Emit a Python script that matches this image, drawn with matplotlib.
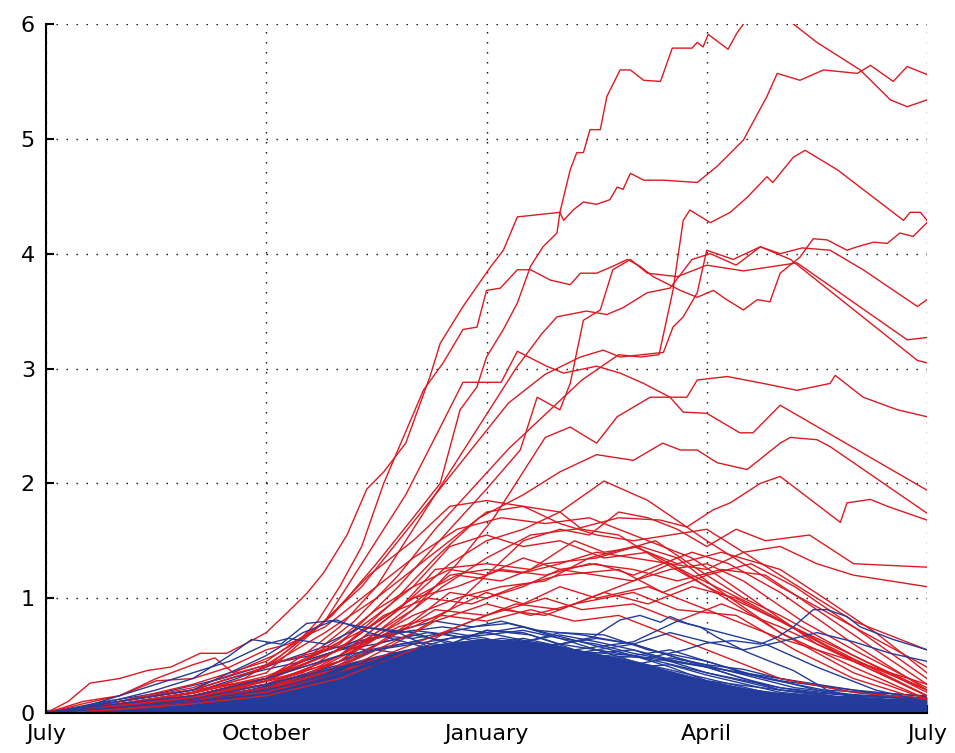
import numpy as np
import matplotlib.pyplot as plt

# x axis in months after July (0 = July, 12 = next July)
tick_pos = [0, 3, 6, 9, 12]
tick_labels = ['July', 'October', 'January', 'April', 'July']

# dense blue core: upper edge of the solid blue band
core_t = [0, 0.5, 1, 1.5, 2, 2.5, 3, 3.5, 4, 4.5, 5, 5.5, 6, 6.5, 7, 7.5, 8,
          8.5, 9, 9.5, 10, 10.5, 11, 11.5, 12]
core_v = [0.03, 0.05, 0.07, 0.09, 0.12, 0.17, 0.25, 0.33, 0.42, 0.5, 0.57, 0.62,
          0.65, 0.63, 0.58, 0.52, 0.45, 0.37, 0.29, 0.22, 0.18, 0.16, 0.15, 0.13, 0.14]

# red paths, (month, value)
red_a = [(0, 0), (0.3, 0.1), (0.6, 0.26), (1.0, 0.3), (1.38, 0.37), (1.7, 0.4), (2.1, 0.52),
         (2.46, 0.52), (2.74, 0.61), (3.0, 0.7), (3.28, 0.87), (3.55, 1.04), (3.78, 1.22),
         (4.1, 1.55), (4.37, 1.95), (4.6, 2.1), (4.9, 2.35), (5.23, 2.93), (5.37, 3.22),
         (5.68, 3.54), (6.05, 3.88), (6.23, 4.03), (6.42, 4.32), (7.0, 4.36), (7.05, 4.29),
         (7.18, 4.38), (7.32, 4.45), (7.5, 4.43), (7.68, 4.47), (7.78, 4.58), (7.86, 4.56),
         (7.96, 4.70), (8.14, 4.64), (8.41, 4.64), (8.87, 4.62), (9.14, 4.76), (9.5, 4.99),
         (9.82, 5.37), (9.96, 5.57), (10.27, 5.51), (10.59, 5.60), (11.05, 5.57), (11.23, 5.64),
         (11.54, 5.50), (11.73, 5.63), (12, 5.56)]
red_b = [(0, 0), (0.5, 0.08), (1, 0.15), (1.5, 0.3), (2, 0.42), (2.3, 0.48), (2.55, 0.35),
         (2.8, 0.42), (3.1, 0.5), (3.5, 0.65), (3.9, 0.85), (4.5, 1.3), (5.0, 1.7), (5.37, 2.0),
         (5.64, 2.64), (5.87, 2.84), (6.0, 3.1), (6.23, 3.34), (6.42, 3.57), (6.6, 3.89),
         (6.77, 4.06), (6.96, 4.18), (7.0, 4.36), (7.14, 4.73), (7.23, 4.88), (7.32, 4.88),
         (7.41, 5.08), (7.55, 5.08), (7.64, 5.37), (7.82, 5.60), (7.96, 5.60), (8.14, 5.51),
         (8.37, 5.50), (8.53, 5.79), (8.80, 5.79), (8.87, 5.84), (8.95, 5.80), (9.02, 5.91),
         (9.29, 5.78), (9.41, 5.92), (9.5, 6.0), (9.7, 6.15), (9.95, 6.1), (10.18, 6.0),
         (10.5, 5.84), (11.09, 5.60), (11.5, 5.34), (11.73, 5.28), (11.87, 5.31), (12, 5.34)]
red_d = [(0, 0), (1, 0.05), (2, 0.12), (3, 0.3), (3.6, 0.5), (4.2, 0.8), (4.8, 1.2), (5.3, 1.6),
         (5.8, 1.95), (6.3, 2.3), (6.8, 2.6), (7.3, 2.9), (7.8, 3.12), (8.1, 3.1), (8.35, 3.12),
         (8.54, 3.68), (8.68, 4.29), (8.77, 4.38), (9.05, 4.27), (9.32, 4.36), (9.55, 4.49),
         (9.82, 4.67), (9.9, 4.62), (10.18, 4.84), (10.34, 4.9), (10.78, 4.73), (11.68, 4.29),
         (11.77, 4.36), (11.91, 4.36), (12, 4.29)]
red_e = [(0, 0), (0.5, 0.05), (1, 0.1), (2, 0.2), (2.5, 0.3), (3, 0.4), (3.4, 0.6), (3.7, 0.8),
         (4.0, 1.1), (4.3, 1.45), (4.6, 2.0), (5.14, 2.81), (5.41, 3.05), (5.68, 3.34),
         (5.87, 3.36), (6.0, 3.68), (6.19, 3.7), (6.42, 3.86), (6.6, 3.86), (6.87, 3.77),
         (7.14, 3.73), (7.28, 3.83), (7.5, 3.83), (7.72, 3.89), (7.92, 3.95), (8.09, 3.89),
         (8.27, 3.80), (8.64, 3.68), (8.87, 3.62), (9.09, 3.68), (9.27, 3.6), (9.5, 3.51),
         (9.69, 3.6), (9.86, 3.58), (10.0, 3.83), (10.27, 3.97), (10.45, 4.13), (10.64, 4.12),
         (10.91, 4.03), (11.05, 4.06), (11.27, 4.10), (11.46, 4.09), (11.63, 4.18),
         (11.81, 4.15), (12, 4.27)]
red_f = [(0, 0), (1, 0.08), (2, 0.18), (2.7, 0.3), (3.2, 0.5), (3.7, 0.75), (4.3, 1.1), (4.8, 1.5),
         (5.3, 1.9), (5.8, 2.3), (6.3, 2.7), (6.8, 2.95), (7.28, 3.1), (7.59, 3.16), (7.82, 3.1),
         (8.41, 3.14), (8.54, 3.36), (8.68, 3.45), (8.87, 3.66), (9.0, 4.03), (9.36, 3.95),
         (9.73, 4.06), (10.0, 4.0), (10.3, 4.05), (10.68, 4.03), (11.13, 3.86), (11.87, 3.54),
         (12, 3.6)]
red_g = [(0, 0), (1, 0.05), (2, 0.15), (3, 0.3), (3.5, 0.5), (4.0, 0.75), (4.5, 1.1), (5.0, 1.6),
         (5.5, 2.1), (6.0, 2.6), (6.4, 3.0), (6.75, 3.3), (6.96, 3.45), (7.36, 3.5), (7.64, 3.47),
         (7.86, 3.53), (8.19, 3.66), (8.5, 3.7), (8.8, 3.95), (9.05, 4.0), (9.4, 3.9),
         (9.73, 4.06), (10.14, 3.95), (11.87, 3.07), (12, 3.05)]
red_h = [(0, 0), (1, 0.05), (2, 0.15), (3, 0.3), (4, 0.6), (4.8, 1.1), (5.5, 1.6), (6.0, 1.95),
         (6.46, 2.29), (6.69, 2.75), (7.0, 2.64), (7.14, 2.87), (7.32, 3.42), (7.55, 3.51),
         (7.72, 3.86), (7.96, 3.95), (8.19, 3.83), (8.6, 3.8), (9.0, 3.9), (9.5, 3.85),
         (10.23, 3.92), (11.73, 3.25), (12, 3.27)]
red_i = [(0, 0), (1, 0.05), (2, 0.12), (3, 0.25), (4, 0.5), (5, 0.9), (5.6, 1.3), (6.1, 1.7),
         (6.5, 2.1), (6.8, 2.4), (7.14, 2.49), (7.5, 2.35), (7.78, 2.58), (8.23, 2.75),
         (8.73, 2.75), (8.87, 2.9), (9.28, 2.93), (9.77, 2.87), (10.23, 2.81), (10.68, 2.87),
         (10.75, 2.94), (11.13, 2.75), (11.6, 2.64), (12, 2.58)]
red_j = [(0, 0), (1, 0.05), (2, 0.18), (3, 0.35), (3.8, 0.8), (4.4, 1.4), (4.9, 1.9), (5.3, 2.4),
         (5.68, 2.88), (6.2, 2.88), (6.42, 3.15), (6.82, 3.02), (7.05, 2.96), (7.5, 3.02),
         (7.82, 2.96), (8.14, 2.87), (8.5, 2.75), (8.68, 2.62), (9.0, 2.61), (9.45, 2.44),
         (9.63, 2.44), (10.0, 2.68), (12, 1.94)]
red_t = [(0, 0), (1, 0.08), (2, 0.15), (3, 0.28), (4, 0.55), (4.7, 0.95), (5.3, 1.35), (5.9, 1.7),
         (6.5, 1.9), (7.0, 2.1), (7.5, 2.25), (8.0, 2.2), (8.4, 2.35), (8.64, 2.29), (8.87, 2.29),
         (9.14, 2.18), (9.55, 2.12), (10.0, 2.35), (10.14, 2.4), (10.5, 2.38), (10.68, 2.32),
         (12, 1.74)]
red_l = [(0, 0), (1, 0.05), (2, 0.1), (3, 0.2), (4, 0.45), (4.8, 0.8), (5.4, 1.1), (6.0, 1.35),
         (6.6, 1.55), (7.2, 1.6), (7.8, 1.7), (8.37, 1.68), (8.73, 1.62), (9.09, 1.77),
         (9.32, 1.83), (9.73, 2.0), (10.0, 2.06), (10.82, 1.66), (10.91, 1.83), (11.23, 1.86),
         (11.46, 1.80), (12, 1.68)]
red_01 = [(0, 0), (1, 0.1), (2, 0.2), (3, 0.3), (3.5, 0.45), (4, 0.65), (4.5, 0.9), (5, 1.1),
          (5.5, 1.25), (6, 1.2), (6.5, 1.5), (7, 1.6), (7.4, 1.55), (7.8, 1.75), (8.2, 1.7),
          (8.6, 1.6), (9.0, 1.45), (9.4, 1.6), (9.8, 1.5), (10.4, 1.55), (11, 1.3), (12, 1.27)]
red_02 = [(0, 0), (1, 0.05), (2, 0.1), (3, 0.2), (4, 0.45), (4.5, 0.7), (5, 0.95), (5.5, 1.2),
          (6, 1.25), (6.5, 1.22), (7, 1.3), (7.5, 1.4), (8, 1.35), (8.5, 1.3), (9, 1.25),
          (9.5, 1.4), (10, 1.45), (10.5, 1.3), (11, 1.2), (11.5, 1.15), (12, 1.1)]
red_03 = [(0, 0), (1.5, 0.08), (2.5, 0.2), (3.5, 0.35), (4.3, 0.7), (5, 1.0), (5.6, 1.2),
          (6.2, 1.15), (6.8, 1.3), (7.5, 1.35), (8.3, 1.5), (9, 1.2), (9.5, 1.0), (10, 0.85),
          (11, 0.5), (12, 0.18)]
red_04 = [(0, 0), (1, 0.05), (2, 0.15), (3, 0.25), (4, 0.5), (4.8, 0.9), (5.3, 1.25), (6, 1.3),
          (6.6, 1.25), (7.2, 1.5), (7.6, 1.4), (8.1, 1.45), (8.6, 1.35), (9.1, 1.1), (10, 0.7),
          (11, 0.4), (12, 0.12)]
red_05 = [(0, 0), (1, 0.1), (2, 0.2), (3, 0.4), (3.8, 0.7), (4.5, 1.0), (5, 1.25), (5.5, 1.5),
          (6, 1.75), (6.5, 1.8), (7, 1.65), (7.5, 1.55), (8, 1.5), (8.5, 1.55), (9, 1.6),
          (9.5, 1.4), (10, 1.2), (11, 0.8), (12, 0.55)]
red_06 = [(0, 0), (1, 0.05), (2, 0.1), (3, 0.2), (3.8, 0.35), (4.5, 0.6), (5, 0.8), (5.5, 1.05),
          (6, 1.0), (6.5, 1.1), (7, 1.25), (7.5, 1.2), (8, 1.15), (8.5, 1.3), (9, 1.1), (10, 0.8),
          (11, 0.5), (12, 0.2)]
red_07 = [(0, 0), (1, 0.08), (2, 0.18), (3, 0.3), (4, 0.55), (4.6, 0.85), (5.2, 1.0), (5.8, 0.95),
          (6.4, 1.1), (7, 1.2), (7.8, 1.25), (8.4, 1.05), (9, 1.2), (9.6, 1.3), (10.2, 1.1),
          (11, 0.75), (12, 0.3)]
red_08 = [(0, 0), (1, 0.05), (2, 0.12), (3, 0.25), (4, 0.4), (4.8, 0.7), (5.3, 0.9), (6, 0.85),
          (6.8, 1.0), (7.3, 0.9), (8, 0.95), (8.6, 0.8), (9.2, 0.95), (10, 0.75), (11, 0.45),
          (12, 0.15)]
red_09 = [(0, 0), (1, 0.1), (2, 0.25), (3, 0.45), (3.8, 0.8), (4.4, 1.2), (5, 1.5), (5.5, 1.8),
          (6, 1.85), (6.5, 1.8), (7, 1.75), (7.3, 1.6), (7.8, 1.55), (8.3, 1.35), (9, 1.1),
          (10, 0.7), (11, 0.35), (12, 0.12)]
red_10 = [(0, 0), (1, 0.05), (2, 0.1), (3, 0.2), (4, 0.4), (5, 0.7), (5.5, 0.9), (6, 1.2),
          (6.5, 1.35), (7, 1.25), (7.5, 1.3), (8, 1.2), (8.8, 1.4), (9.3, 1.3), (10, 1.05),
          (11, 0.6), (12, 0.2)]
red_11 = [(0, 0), (1, 0.05), (2, 0.15), (3, 0.3), (4, 0.5), (4.8, 0.9), (5.5, 1.3), (6, 1.5),
          (6.5, 1.6), (7, 1.75), (7.6, 2.02), (8.2, 1.85), (9, 1.5), (10, 1.1), (11, 0.75),
          (12, 0.4)]
red_12 = [(0, 0), (0.5, 0.1), (1, 0.15), (1.5, 0.28), (2, 0.3), (2.5, 0.4), (3, 0.55), (3.3, 0.6),
          (3.8, 0.75), (4.4, 1.05), (5, 1.35), (5.6, 1.6), (6.2, 1.7), (6.8, 1.65), (7.4, 1.7),
          (8, 1.55), (8.8, 1.35), (9.6, 1.0), (10.5, 0.6), (12, 0.2)]
red_13 = [(0, 0), (1, 0.05), (2, 0.12), (3, 0.18), (4, 0.35), (4.6, 0.55), (5.3, 0.8), (6, 0.95),
          (6.6, 0.85), (7.2, 0.95), (8, 1.05), (8.6, 0.9), (9.4, 0.85), (10.2, 0.55), (11, 0.3),
          (12, 0.1)]
red_14 = [(0, 0), (1, 0.08), (2, 0.15), (3, 0.28), (4, 0.45), (4.5, 0.65), (5, 0.75), (5.5, 0.9),
          (6, 1.05), (6.5, 0.95), (7, 1.1), (7.5, 1.0), (8.2, 1.1), (9, 0.9), (10, 0.65),
          (11, 0.45), (12, 0.25)]
red_15 = [(0, 0), (1, 0.03), (2, 0.08), (3, 0.15), (4, 0.3), (5, 0.55), (5.6, 0.75), (6.2, 0.9),
          (6.8, 0.85), (7.4, 1.0), (8, 1.15), (8.5, 1.25), (9, 1.3), (9.5, 1.15), (10.3, 0.8),
          (11, 0.55), (12, 0.22)]
red_16 = [(0, 0), (1, 0.1), (2, 0.22), (2.6, 0.35), (3.2, 0.45), (3.8, 0.55), (4.4, 0.75),
          (5, 1.0), (5.6, 1.1), (6.2, 1.25), (6.8, 1.2), (7.4, 1.3), (8, 1.25), (8.6, 1.15),
          (9.2, 1.25), (9.8, 1.2), (10.5, 0.9), (11.3, 0.55), (12, 0.25)]
red_17 = [(0, 0), (1, 0.04), (2, 0.1), (3, 0.2), (4, 0.35), (4.6, 0.5), (5.2, 0.65), (5.8, 0.8),
          (6.4, 0.95), (7, 0.9), (7.6, 1.05), (8.2, 0.95), (8.8, 1.1), (9.4, 1.0), (10, 0.8),
          (11, 0.45), (12, 0.15)]
red_18 = [(0, 0), (1, 0.06), (2, 0.14), (3, 0.25), (3.7, 0.4), (4.3, 0.6), (5, 0.85), (5.6, 1.0),
          (6.2, 1.1), (6.8, 1.15), (7.4, 1.35), (8, 1.45), (8.6, 1.3), (9.2, 1.4), (10, 1.25),
          (10.6, 1.0), (11.3, 0.7), (12, 0.35)]
red_19 = [(0, 0), (1, 0.05), (2, 0.12), (3, 0.22), (3.6, 0.35), (4.2, 0.55), (4.8, 0.75),
          (5.4, 0.85), (6, 0.8), (6.6, 0.9), (7.2, 0.8), (7.8, 0.85), (8.4, 0.7), (9, 0.55),
          (10, 0.3), (11, 0.18), (12, 0.12)]
red_20 = [(0, 0), (1, 0.07), (2, 0.17), (3, 0.32), (3.5, 0.45), (4, 0.62), (4.5, 0.85), (5, 1.1),
          (5.5, 1.45), (6, 1.55), (6.5, 1.45), (7, 1.5), (7.6, 1.35), (8.2, 1.4), (8.8, 1.2),
          (9.6, 0.95), (10.6, 0.6), (12, 0.15)]

red_paths = [red_a, red_b, red_d, red_e, red_f, red_g, red_h, red_i, red_j, red_t, red_l,
             red_01, red_02, red_03, red_04, red_05, red_06, red_07, red_08, red_09, red_10,
             red_11, red_12, red_13, red_14, red_15, red_16, red_17, red_18, red_19, red_20]

# blue paths inside the dense band
blue_01 = [(0, 0), (1, 0.05), (2, 0.1), (3, 0.2), (4, 0.35), (5, 0.5), (5.5, 0.6), (6, 0.72),
           (6.5, 0.7), (7, 0.6), (7.5, 0.55), (8, 0.45), (9, 0.3), (10, 0.15), (11, 0.1), (12, 0.08)]
blue_02 = [(0, 0), (1, 0.08), (2, 0.15), (3, 0.3), (3.5, 0.45), (4, 0.55), (4.5, 0.6), (5, 0.68),
           (5.5, 0.62), (6, 0.55), (7, 0.45), (8, 0.35), (9, 0.22), (10, 0.12), (11, 0.08), (12, 0.05)]
blue_03 = [(0, 0), (1, 0.04), (2, 0.08), (3, 0.15), (4, 0.25), (5, 0.4), (6, 0.55), (6.5, 0.62),
           (7, 0.68), (7.5, 0.62), (8, 0.55), (8.5, 0.45), (9, 0.35), (10, 0.2), (11, 0.12), (12, 0.1)]
blue_04 = [(0, 0), (1, 0.06), (2, 0.12), (3, 0.25), (4, 0.42), (4.5, 0.55), (5, 0.62), (5.5, 0.7),
           (6, 0.65), (6.5, 0.55), (7, 0.5), (8, 0.4), (8.5, 0.42), (9, 0.33), (10, 0.18), (11, 0.12),
           (12, 0.1)]
blue_05 = [(0, 0), (1, 0.03), (2, 0.07), (3, 0.12), (4, 0.2), (5, 0.3), (6, 0.45), (7, 0.5),
           (7.5, 0.55), (8, 0.5), (8.5, 0.55), (9, 0.45), (9.5, 0.35), (10, 0.3), (11, 0.18), (12, 0.12)]
blue_06 = [(0, 0), (1, 0.05), (2, 0.1), (3, 0.18), (3.5, 0.3), (4, 0.45), (4.5, 0.55), (5, 0.5),
           (6, 0.6), (6.5, 0.5), (7, 0.42), (8, 0.3), (9, 0.2), (10, 0.12), (11, 0.06), (12, 0.05)]
blue_07 = [(0, 0), (1, 0.07), (2, 0.13), (3, 0.22), (4, 0.3), (5, 0.45), (5.5, 0.55), (6, 0.6),
           (6.8, 0.58), (7.5, 0.45), (8, 0.5), (8.5, 0.4), (9, 0.28), (10, 0.2), (11, 0.15), (12, 0.12)]
blue_08 = [(0, 0), (1, 0.02), (2, 0.05), (3, 0.1), (4, 0.18), (5, 0.28), (6, 0.38), (7, 0.42),
           (8, 0.35), (9, 0.25), (10, 0.15), (11, 0.1), (12, 0.08)]
blue_09 = [(0, 0), (1, 0.1), (2, 0.2), (2.5, 0.3), (3, 0.38), (3.5, 0.45), (4, 0.55), (4.5, 0.65),
           (5, 0.72), (5.5, 0.68), (6, 0.6), (6.5, 0.65), (7, 0.58), (7.5, 0.48), (8, 0.38),
           (9, 0.25), (10, 0.15), (11, 0.12), (12, 0.1)]
blue_10 = [(0, 0), (1, 0.04), (2, 0.09), (3, 0.16), (4, 0.28), (5, 0.42), (6, 0.5), (6.5, 0.55),
           (7, 0.6), (7.5, 0.65), (8, 0.6), (8.5, 0.5), (9, 0.4), (9.5, 0.3), (10, 0.22), (11, 0.12),
           (12, 0.1)]
blue_11 = [(0, 0), (1, 0.06), (2, 0.11), (3, 0.22), (4, 0.38), (5, 0.55), (5.5, 0.65), (6, 0.68),
           (6.5, 0.72), (7, 0.65), (7.5, 0.6), (8, 0.52), (9, 0.4), (9.5, 0.3), (10, 0.2), (11, 0.12),
           (12, 0.08)]
blue_12 = [(0, 0), (1, 0.05), (2, 0.1), (3, 0.2), (4, 0.3), (4.5, 0.4), (5, 0.45), (6, 0.52),
           (7, 0.45), (8, 0.42), (8.5, 0.48), (9, 0.42), (9.5, 0.38), (10, 0.3), (10.5, 0.25),
           (11, 0.2), (11.5, 0.15), (12, 0.12)]
blue_13 = [(0, 0), (0.8, 0.1), (1.6, 0.18), (2.4, 0.3), (3, 0.42), (3.6, 0.5), (4.2, 0.62),
           (4.8, 0.7), (5.4, 0.75), (6, 0.7), (6.6, 0.62), (7.2, 0.55), (8, 0.45), (8.8, 0.3),
           (9.6, 0.2), (10.5, 0.12), (12, 0.08)]
blue_14 = [(0, 0), (1, 0.03), (2, 0.06), (3, 0.12), (4, 0.22), (5, 0.35), (6, 0.48), (7, 0.55),
           (8, 0.5), (9, 0.4), (9.5, 0.35), (10, 0.28), (10.5, 0.2), (11, 0.15), (12, 0.12)]
blue_15 = [(0, 0), (1, 0.05), (2, 0.12), (3, 0.28), (3.6, 0.45), (4.2, 0.6), (4.8, 0.72),
           (5.3, 0.8), (5.8, 0.75), (6.3, 0.78), (6.8, 0.7), (7.4, 0.6), (8, 0.5), (9, 0.35),
           (10, 0.22), (11, 0.15), (12, 0.12)]
blue_16 = [(0, 0), (1, 0.06), (2, 0.14), (3, 0.3), (3.8, 0.5), (4.4, 0.68), (5, 0.65), (5.6, 0.72),
           (6.2, 0.8), (6.7, 0.72), (7.3, 0.68), (8, 0.6), (8.6, 0.48), (9.4, 0.35), (10.2, 0.22),
           (11, 0.16), (12, 0.13)]
blue_17 = [(0, 0), (1, 0.04), (2, 0.1), (3, 0.22), (4, 0.45), (4.6, 0.62), (5.2, 0.7), (5.8, 0.65),
           (6.4, 0.6), (7, 0.7), (7.6, 0.68), (8.2, 0.55), (9, 0.45), (9.8, 0.3), (10.6, 0.2),
           (12, 0.15)]
blue_18 = [(0, 0), (1, 0.08), (2, 0.18), (2.6, 0.3), (3.2, 0.45), (3.8, 0.58), (4.4, 0.55),
           (5, 0.62), (5.6, 0.58), (6.2, 0.65), (6.8, 0.6), (7.4, 0.52), (8, 0.55), (8.6, 0.45),
           (9.2, 0.38), (10, 0.28), (11, 0.2), (12, 0.14)]

blue_paths = [blue_01, blue_02, blue_03, blue_04, blue_05, blue_06, blue_07, blue_08, blue_09,
              blue_10, blue_11, blue_12, blue_13, blue_14, blue_15, blue_16, blue_17, blue_18]

# blue paths that stand out above the band
blue_hi1 = [(0, 0), (1, 0.05), (2, 0.12), (3, 0.25), (4, 0.4), (5, 0.5), (6, 0.45), (7, 0.4),
            (7.6, 0.5), (8.2, 0.48), (8.7, 0.55), (9.0, 0.61), (9.36, 0.63), (9.73, 0.6),
            (9.96, 0.66), (10.18, 0.75), (10.45, 0.9), (10.64, 0.9), (10.91, 0.84), (11.09, 0.75),
            (11.54, 0.64), (12, 0.55)]
blue_hi2 = [(0, 0), (1, 0.05), (2, 0.1), (3, 0.2), (4, 0.35), (5, 0.5), (6, 0.62), (6.6, 0.58),
            (7.0, 0.6), (7.45, 0.66), (7.82, 0.81), (8.09, 0.85), (8.37, 0.79), (8.5, 0.84),
            (8.73, 0.78), (8.91, 0.75), (9.14, 0.66), (9.55, 0.53), (9.82, 0.46), (10.18, 0.37),
            (10.64, 0.2), (11.2, 0.1), (12, 0.08)]
blue_hi3 = [(0, 0), (1, 0.08), (2, 0.15), (3, 0.3), (4, 0.5), (5, 0.6), (6, 0.7), (6.5, 0.75),
            (7, 0.65), (7.5, 0.55), (8, 0.6), (8.5, 0.7), (9, 0.62), (9.5, 0.55), (10, 0.62),
            (10.5, 0.7), (11, 0.62), (11.5, 0.52), (12, 0.45)]
blue_hi4 = [(0, 0), (0.5, 0.05), (1, 0.12), (1.5, 0.2), (2, 0.3), (2.5, 0.5), (2.8, 0.64),
            (3.2, 0.6), (3.55, 0.78), (3.96, 0.81), (4.4, 0.7), (5, 0.6), (5.5, 0.5), (6, 0.55),
            (6.5, 0.45), (7, 0.35), (8, 0.25), (9, 0.15), (10, 0.1), (11, 0.08), (12, 0.05)]
blue_hi5 = [(0, 0), (1, 0.1), (2, 0.2), (2.5, 0.35), (3, 0.5), (3.5, 0.7), (3.9, 0.8), (4.3, 0.75),
            (4.8, 0.7), (5.3, 0.55), (5.8, 0.5), (6.3, 0.45), (7, 0.35), (8, 0.3), (9, 0.2),
            (10, 0.1), (11, 0.05), (12, 0.05)]
blue_hi6 = [(0, 0), (0.5, 0.05), (1.5, 0.25), (2.5, 0.45), (3, 0.6), (3.3, 0.65), (3.8, 0.6),
            (4.3, 0.75), (5, 0.7), (5.5, 0.6), (6, 0.72), (6.6, 0.68), (7.2, 0.55), (8, 0.62),
            (8.6, 0.8), (9.2, 0.7), (9.8, 0.6), (10.5, 0.4), (11.3, 0.2), (12, 0.1)]

blue_top = [blue_hi1, blue_hi2, blue_hi3, blue_hi4, blue_hi5, blue_hi6]

RED = '#dc1a22'
BLUE = '#233c9b'

fig = plt.figure(figsize=(9.55, 7.53), dpi=100)
ax = fig.add_axes([46 / 955, 40 / 753, 881 / 955, 689 / 753])

ax.fill_between(core_t, 0, core_v, color=BLUE, lw=0, zorder=1)
for p in blue_paths:
    p = np.array(p)
    ax.plot(p[:, 0], p[:, 1], color=BLUE, lw=1.0, zorder=2)
for p in red_paths:
    p = np.array(p)
    ax.plot(p[:, 0], p[:, 1], color=RED, lw=1.0, zorder=3)
for p in blue_top:
    p = np.array(p)
    ax.plot(p[:, 0], p[:, 1], color=BLUE, lw=1.0, zorder=4)

ax.set_xlim(0, 12)
ax.set_ylim(0, 6)
ax.set_xticks(tick_pos)
ax.set_xticklabels(tick_labels)
ax.set_yticks(range(0, 7))

ax.grid(True, color='black', linestyle=(0, (1, 6.2)), linewidth=1.0)
ax.set_axisbelow(True)

for side in ['top', 'right']:
    ax.spines[side].set_visible(False)
for side in ['left', 'bottom']:
    ax.spines[side].set_linewidth(1.5)
    ax.spines[side].set_zorder(5)

ax.tick_params(direction='in', length=6, width=1.5, labelsize=16, pad=8)

fig.savefig('out.png', dpi=100, facecolor='white')
